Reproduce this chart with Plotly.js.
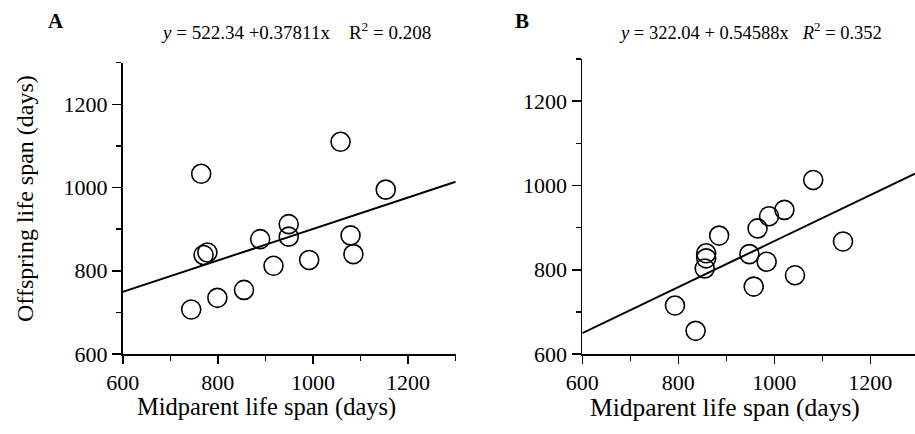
<!DOCTYPE html>
<html>
<head>
<meta charset="utf-8">
<script src="https://cdn.plot.ly/plotly-3.0.1.min.js"></script>
<style>html,body{margin:0;padding:0;background:#fff;}#chart{width:915px;height:434px;}</style>
</head>
<body>
<div id="chart"></div>
<script>
// Panel A data (midparent vs offspring life span, days)
const midparentA = [744, 799, 855, 765, 770, 778, 889, 917, 949, 949, 992, 1058, 1079, 1085, 1153];
const offspringA = [707, 735, 754, 1033, 838, 844, 876, 812, 912, 882, 826, 1110, 885, 840, 995];
// Panel B data
const midparentB = [793, 836, 855, 858, 858, 885, 948, 957, 965, 984, 989, 1021, 1043, 1081, 1143];
const offspringB = [715, 655, 803, 839, 827, 881, 837, 760, 898, 819, 927, 942, 787, 1013, 867];
// Regression fits as printed on the chart
const fitA = {intercept: 522.34, slope: 0.37811, r2: 0.208};
const fitB = {intercept: 322.04, slope: 0.54588, r2: 0.352};
const xRangeA = [600, 1300];
const xRangeB = [600, 1293];
const yRange = [600, 1300];
const tickVals = [600, 800, 1000, 1200];
const tickText = ['600', '800', '1000', '1200'];
const panelLabels = ['A', 'B'];
const xTitle = 'Midparent life span (days)';
const yTitle = 'Offspring life span (days)';

const FONT = '"Liberation Serif", "Times New Roman", serif';

function fitLine(fit, xr) {
  return {x: xr.slice(), y: xr.map(v => fit.intercept + fit.slope * v)};
}

const markerStyle = {symbol: 'circle-open', size: 19, color: '#000', line: {color: '#000', width: 1.6}};
const lA = fitLine(fitA, xRangeA);
const lB = fitLine(fitB, xRangeB);

const traces = [
  {x: lA.x, y: lA.y, xaxis: 'x', yaxis: 'y', mode: 'lines', line: {color: '#000', width: 2}, hoverinfo: 'skip'},
  {x: midparentA, y: offspringA, xaxis: 'x', yaxis: 'y', mode: 'markers', marker: markerStyle},
  {x: lB.x, y: lB.y, xaxis: 'x2', yaxis: 'y2', mode: 'lines', line: {color: '#000', width: 2}, hoverinfo: 'skip'},
  {x: midparentB, y: offspringB, xaxis: 'x2', yaxis: 'y2', mode: 'markers', marker: markerStyle}
];

function xAxis(domain, range, anchor) {
  return {
    domain: domain, range: range, anchor: anchor,
    showline: true, linecolor: '#000', linewidth: 1.8,
    showgrid: false, zeroline: false,
    tickmode: 'array', tickvals: tickVals, ticktext: tickText,
    ticks: 'outside', ticklen: 8, tickwidth: 1.6, tickcolor: '#000',
    minor: {tickmode: 'linear', tick0: 600, dtick: 100, ticks: 'outside', ticklen: 5, tickwidth: 1.4, tickcolor: '#000', showgrid: false},
    tickfont: {family: FONT, size: 22, color: '#000'},
    fixedrange: true
  };
}
function yAxis(domain, anchor) {
  return {
    domain: domain, range: yRange, anchor: anchor,
    showline: true, linecolor: '#000', linewidth: 1.8,
    showgrid: false, zeroline: false,
    tickmode: 'array', tickvals: tickVals, ticktext: tickText,
    ticks: 'outside', ticklen: 9, tickwidth: 1.6, tickcolor: '#000',
    minor: {tickmode: 'linear', tick0: 600, dtick: 100, ticks: 'outside', ticklen: 5, tickwidth: 1.4, tickcolor: '#000', showgrid: false},
    tickfont: {family: FONT, size: 22, color: '#000'},
    fixedrange: true
  };
}

const tf = (size) => ({family: FONT, size: size, color: '#000'});

const annotations = [
  {text: '<b>' + panelLabels[0] + '</b>', x: 56, y: 21, font: tf(21)},
  {text: '<b>' + panelLabels[1] + '</b>', x: 522, y: 21, font: tf(21)},
  {text: '<i>y</i> = ' + fitA.intercept.toFixed(2) + ' +' + fitA.slope.toFixed(5) + 'x&nbsp;&nbsp;&nbsp; R<sup>2</sup> = ' + fitA.r2.toFixed(3), x: 296, y: 31, font: tf(19)},
  {text: '<i>y</i> = ' + fitB.intercept.toFixed(2) + ' + ' + fitB.slope.toFixed(5) + 'x&nbsp;&nbsp; <i>R</i><sup>2</sup> = ' + fitB.r2.toFixed(3), x: 750, y: 31, font: tf(18.5)},
  {text: xTitle, x: 266, y: 407, font: tf(24.5)},
  {text: xTitle, x: 725, y: 407, font: tf(25.5)},
  {text: yTitle, x: 25, y: 199, textangle: -90, font: tf(24)}
];
annotations.forEach(a => {
  a.xref = 'paper'; a.yref = 'paper'; a.showarrow = false;
  a.x = a.x / 915; a.y = 1 - a.y / 434; a.xanchor = 'center'; a.yanchor = 'middle';
});

const layout = {
  width: 915, height: 434,
  margin: {l: 0, r: 0, t: 0, b: 0},
  paper_bgcolor: '#fff', plot_bgcolor: '#fff',
  showlegend: false,
  xaxis: xAxis([0.1341, 0.4980], xRangeA, 'y'),
  yaxis: yAxis([0.1843, 0.8555], 'x'),
  xaxis2: xAxis([0.6364, 1.0], xRangeB, 'y2'),
  yaxis2: yAxis([0.1843, 0.8641], 'x2'),
  annotations: annotations
};

Plotly.newPlot('chart', traces, layout, {staticPlot: true, displayModeBar: false});
</script>
</body>
</html>
